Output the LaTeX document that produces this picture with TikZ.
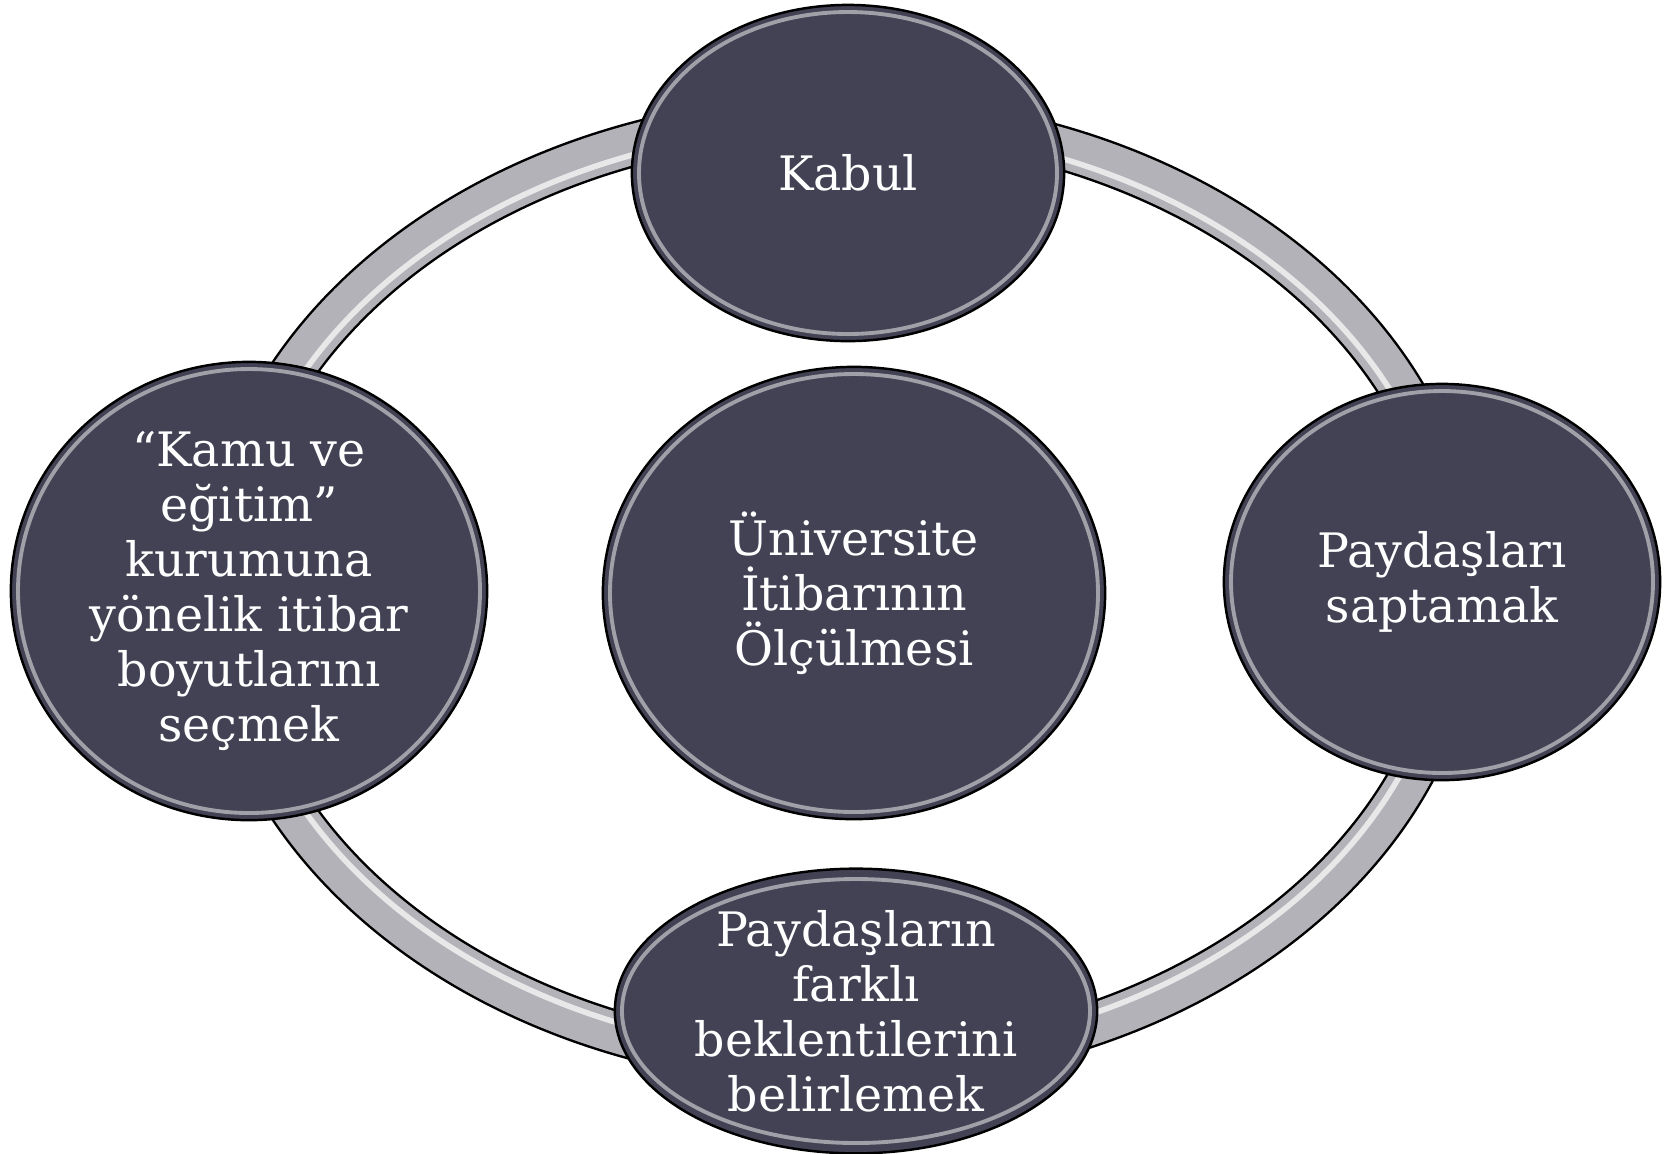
\documentclass[tikz,border=0pt]{standalone}
\usepackage{fontspec}
\setmainfont{DejaVu Serif}
\usetikzlibrary{shapes.geometric}
\definecolor{slate}{RGB}{66,66,84}
\definecolor{ringgray}{RGB}{178,178,184}

\begin{document}
\begin{tikzpicture}[x=0.01cm,y=-0.01cm,
    topic/.style={ellipse,draw=black,line width=0.7pt,fill=slate,text=white,
      inner sep=0pt,align=center,font=\fontsize{13.5}{15.6}\selectfont},
    rim/.style={draw=white!50!slate,line width=1.1pt}]
      \useasboundingbox (0,0) rectangle (1669,1153);

      % the ring behind the circles
      \coordinate (hub) at (841,591);
      \draw[line width=12.8pt] (hub) ellipse [x radius=619, y radius=474];
      \draw[ringgray,line width=11.4pt] (hub) ellipse [x radius=619, y radius=474];
      \draw[white,line width=1.6pt,opacity=.7] (hub) ellipse [x radius=609, y radius=464];

      \node[topic,minimum width=4.32cm,minimum height=3.36cm] (kabul) at (848,173) {Kabul};
      \node[topic,minimum width=5.02cm,minimum height=4.52cm] (olcum) at (854,593) {Üniversite\\İtibarının\\Ölçülmesi};
      \node[topic,minimum width=4.36cm,minimum height=3.96cm] (saptama) at (1442,582) {Paydaşları\\saptamak};
      \node[topic,minimum width=4.82cm,minimum height=2.78cm] (beklenti) at (856,1011) {Paydaşların\\farklı\\beklentilerini\\belirlemek};
      \node[topic,minimum width=4.76cm,minimum height=4.58cm] (boyut) at (249,591) {“Kamu ve\\eğitim”\\kurumuna\\yönelik itibar\\boyutlarını\\seçmek};

      % bevel rim
      \foreach \n/\a/\b in {kabul/216/168,olcum/251/226,saptama/218/198,beklenti/241/139,boyut/238/229}
        \draw[rim] (\n.center) ellipse [x radius=\a-7, y radius=\b-7];
    \end{tikzpicture}
\end{document}
